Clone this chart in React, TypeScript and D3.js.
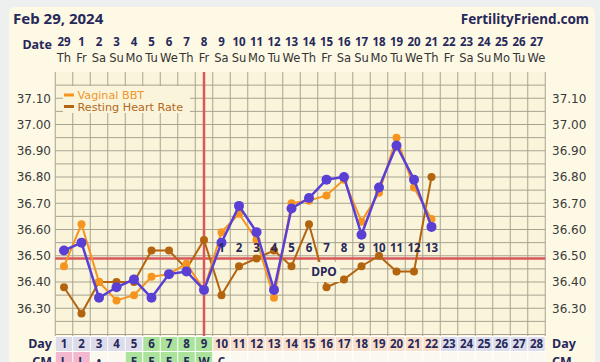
import React from "react";
import * as d3 from "d3";

const dates = [29, 1, 2, 3, 4, 5, 6, 7, 8, 9, 10, 11, 12, 13, 14, 15, 16, 17, 18, 19, 20, 21, 22, 23, 24, 25, 26, 27];
const dows = ["Th", "Fr", "Sa", "Su", "Mo", "Tu", "We", "Th", "Fr", "Sa", "Su", "Mo", "Tu", "We", "Th", "Fr", "Sa", "Su", "Mo", "Tu", "We", "Th", "Fr", "Sa", "Su", "Mo", "Tu", "We"];
const cycleDays = d3.range(1, 29);
const temps = [36.52, 36.55, 36.34, 36.38, 36.41, 36.34, 36.43, 36.44, 36.37, 36.55, 36.69, 36.59, 36.37, 36.68, 36.72, 36.79, 36.80, 36.58, 36.76, 36.92, 36.79, 36.61];
const vaginalBBT = [36.46, 36.62, 36.40, 36.33, 36.35, 36.42, 36.43, 36.47, 36.37, 36.59, 36.66, 36.56, 36.34, 36.70, 36.71, 36.73, 36.79, 36.63, 36.74, 36.95, 36.76, 36.64];
const restingHR = [36.38, 36.28, 36.40, 36.40, 36.40, 36.52, 36.52, 36.45, 36.56, 36.35, 36.46, 36.49, 36.52, 36.46, 36.62, 36.38, 36.41, 36.46, 36.50, 36.44, 36.44, 36.80];
const yTicks = [37.1, 37.0, 36.9, 36.8, 36.7, 36.6, 36.5, 36.4, 36.3];
const coverline = 36.49;
const ovulationDay = 9;
const dpoStartDay = 10;
const dpoCount = 13;
const dayPhase = ["a", "a", "a", "a", "a", "f", "f", "f", "f", "l", "l", "l", "l", "l", "l", "l", "l", "l", "l", "l", "l", "l", "a", "a", "a", "a", "a", "a"];
const cmValues = ["L", "L", "•", "", "E", "E", "E", "E", "W", "C"];
const cmPhase = ["p", "p", "w", "w", "f", "f", "f", "f", "f", "w"];

const BOLD = "'Noto Sans', sans-serif";
const REG = "'DejaVu Sans', sans-serif";
const NAVY = "#27285a";

export default function App() {
  const x = d3.scaleLinear().domain([0.5, 28.5]).range([55.25, 545.25]);
  const y = d3.scaleLinear().domain([36.2, 37.2]).range([334.5, 72]);
  const hLines = d3.range(0, 20).map((i) => 37.15 - i * 0.05);
  const vLines = d3.range(0, 29).map((i) => i + 0.5);
  const line = d3
    .line<number>()
    .x((_, i) => x(i + 1))
    .y((v) => y(v));
  const phaseColor: Record<string, string> = { a: "#dcdcea", f: "#ace39c", l: "#f8dfcb" };
  const cmColor: Record<string, string> = { p: "#f2b8cd", w: "#fbf9ef", f: "#ace39c" };

  const series = [
    { data: restingHR, color: "#b3640f", r: 4, w: 2 },
    { data: vaginalBBT, color: "#f7941f", r: 4, w: 2 },
    { data: temps, color: "#5a3fd4", r: 5, w: 2.5 },
  ];

  return (
    <svg width={600} height={362} style={{ position: "absolute", left: 0, top: 0 }}>
      <rect x={0} y={0} width={600} height={362} fill="#eef0f0" />
      <rect x={9} y={7} width={586} height={380} rx={6} fill="#fdf9e5" />
      <text x={13} y={24} fontFamily={BOLD} fontWeight="bold" fontSize={15} fill={NAVY}>Feb 29, 2024</text>
      <text x={589} y={24} textAnchor="end" fontFamily={BOLD} fontWeight="bold" fontSize={13.5} fill={NAVY}>FertilityFriend.com</text>
      <text x={52} y={48.5} textAnchor="end" fontFamily={BOLD} fontWeight="bold" fontSize={12.5} fill={NAVY}>Date</text>
      {dates.map((d, i) => (
        <text key={"d" + i} x={x(i + 1)} y={45.5} textAnchor="middle" fontFamily={BOLD} fontWeight="bold" fontSize={11.5} fill={NAVY}>{d}</text>
      ))}
      {dows.map((d, i) => (
        <text key={"w" + i} x={x(i + 1)} y={61.5} textAnchor="middle" fontFamily={REG} fontSize={11.5} fill="#333">{d}</text>
      ))}
      <rect x={x(0.5)} y={y(37.2)} width={x(28.5) - x(0.5)} height={y(36.2) - y(37.2)} fill="#faf5da" />
      {hLines.map((v, i) => (
        <line key={"h" + i} x1={x(0.5)} x2={x(28.5)} y1={y(v)} y2={y(v)} stroke="#a7a391" strokeWidth={1} />
      ))}
      {vLines.map((v, i) => (
        <line key={"v" + i} x1={x(v)} x2={x(v)} y1={y(37.2)} y2={336} stroke="#a7a391" strokeWidth={1} />
      ))}
      {yTicks.map((t, i) => (
        <g key={"t" + i}>
          <text x={51} y={y(t)} dy="0.36em" textAnchor="end" fontFamily={REG} fontSize={12} fill="#3a3a3a">{t.toFixed(2)}</text>
          <text x={552} y={y(t)} dy="0.36em" textAnchor="start" fontFamily={REG} fontSize={12} fill="#3a3a3a">{t.toFixed(2)}</text>
        </g>
      ))}
      <line x1={x(ovulationDay)} x2={x(ovulationDay)} y1={y(37.2)} y2={336} stroke="#d9575b" strokeWidth={2.5} />
      <line x1={x(0.5)} x2={x(28.5)} y1={y(coverline)} y2={y(coverline)} stroke="#d9575b" strokeWidth={2.5} />
      {series.map((s, k) => (
        <g key={"s" + k}>
          <path d={line(s.data) || ""} fill="none" stroke={s.color} strokeWidth={s.w} />
          {s.data.map((v, i) => (
            <circle key={i} cx={x(i + 1)} cy={y(v)} r={s.r} fill={s.color} />
          ))}
        </g>
      ))}
      {d3.range(1, dpoCount + 1).map((n) => (
        <text key={"p" + n} x={x(dpoStartDay + n - 1)} y={252} textAnchor="middle" fontFamily={BOLD} fontWeight="bold" fontSize={11.5} fill={NAVY}>{n}</text>
      ))}
      <rect x={309} y={262} width={31} height={20} fill="#faf5da" />
      <text x={324} y={276} textAnchor="middle" fontFamily={BOLD} fontWeight="bold" fontSize={12} fill={NAVY}>DPO</text>
      <rect x={63} y={86} width={127} height={27} fill="#faf5da" />
      <rect x={64} y={93.5} width={10} height={3} fill="#f7941f" />
      <text x={77.5} y={98.5} fontFamily={REG} fontSize={11.2} fill="#ee9530">Vaginal BBT</text>
      <rect x={64} y={105} width={10} height={3} fill="#b3640f" />
      <text x={77.5} y={110.5} fontFamily={REG} fontSize={11.2} fill="#b4681d">Resting Heart Rate</text>
      <rect x={x(0.5)} y={336} width={x(28.5) - x(0.5)} height={30} fill="#ffffff" />
      {cycleDays.map((d, i) => (
        <g key={"c" + d}>
          <rect x={x(d - 0.5) + 0.5} y={337} width={x(d + 0.5) - x(d - 0.5) - 1} height={14} fill={phaseColor[dayPhase[i]]} />
          <text x={x(d)} y={347.8} textAnchor="middle" fontFamily={BOLD} fontWeight="bold" fontSize={11.5} fill={NAVY}>{d}</text>
          <rect x={x(d - 0.5) + 0.5} y={352} width={x(d + 0.5) - x(d - 0.5) - 1} height={14} fill={i < cmPhase.length ? cmColor[cmPhase[i]] : "#fbf9ef"} />
          {i < cmValues.length && (
            <text x={x(d)} y={366} textAnchor="middle" fontFamily={BOLD} fontWeight="bold" fontSize={11.5} fill={NAVY}>{cmValues[i]}</text>
          )}
        </g>
      ))}
      <text x={52} y={348} textAnchor="end" fontFamily={BOLD} fontWeight="bold" fontSize={12.5} fill={NAVY}>Day</text>
      <text x={552} y={348} textAnchor="start" fontFamily={BOLD} fontWeight="bold" fontSize={12.5} fill={NAVY}>Day</text>
      <text x={52} y={366} textAnchor="end" fontFamily={BOLD} fontWeight="bold" fontSize={12.5} fill={NAVY}>CM</text>
      <text x={552} y={366} textAnchor="start" fontFamily={BOLD} fontWeight="bold" fontSize={12.5} fill={NAVY}>CM</text>
    </svg>
  );
}
